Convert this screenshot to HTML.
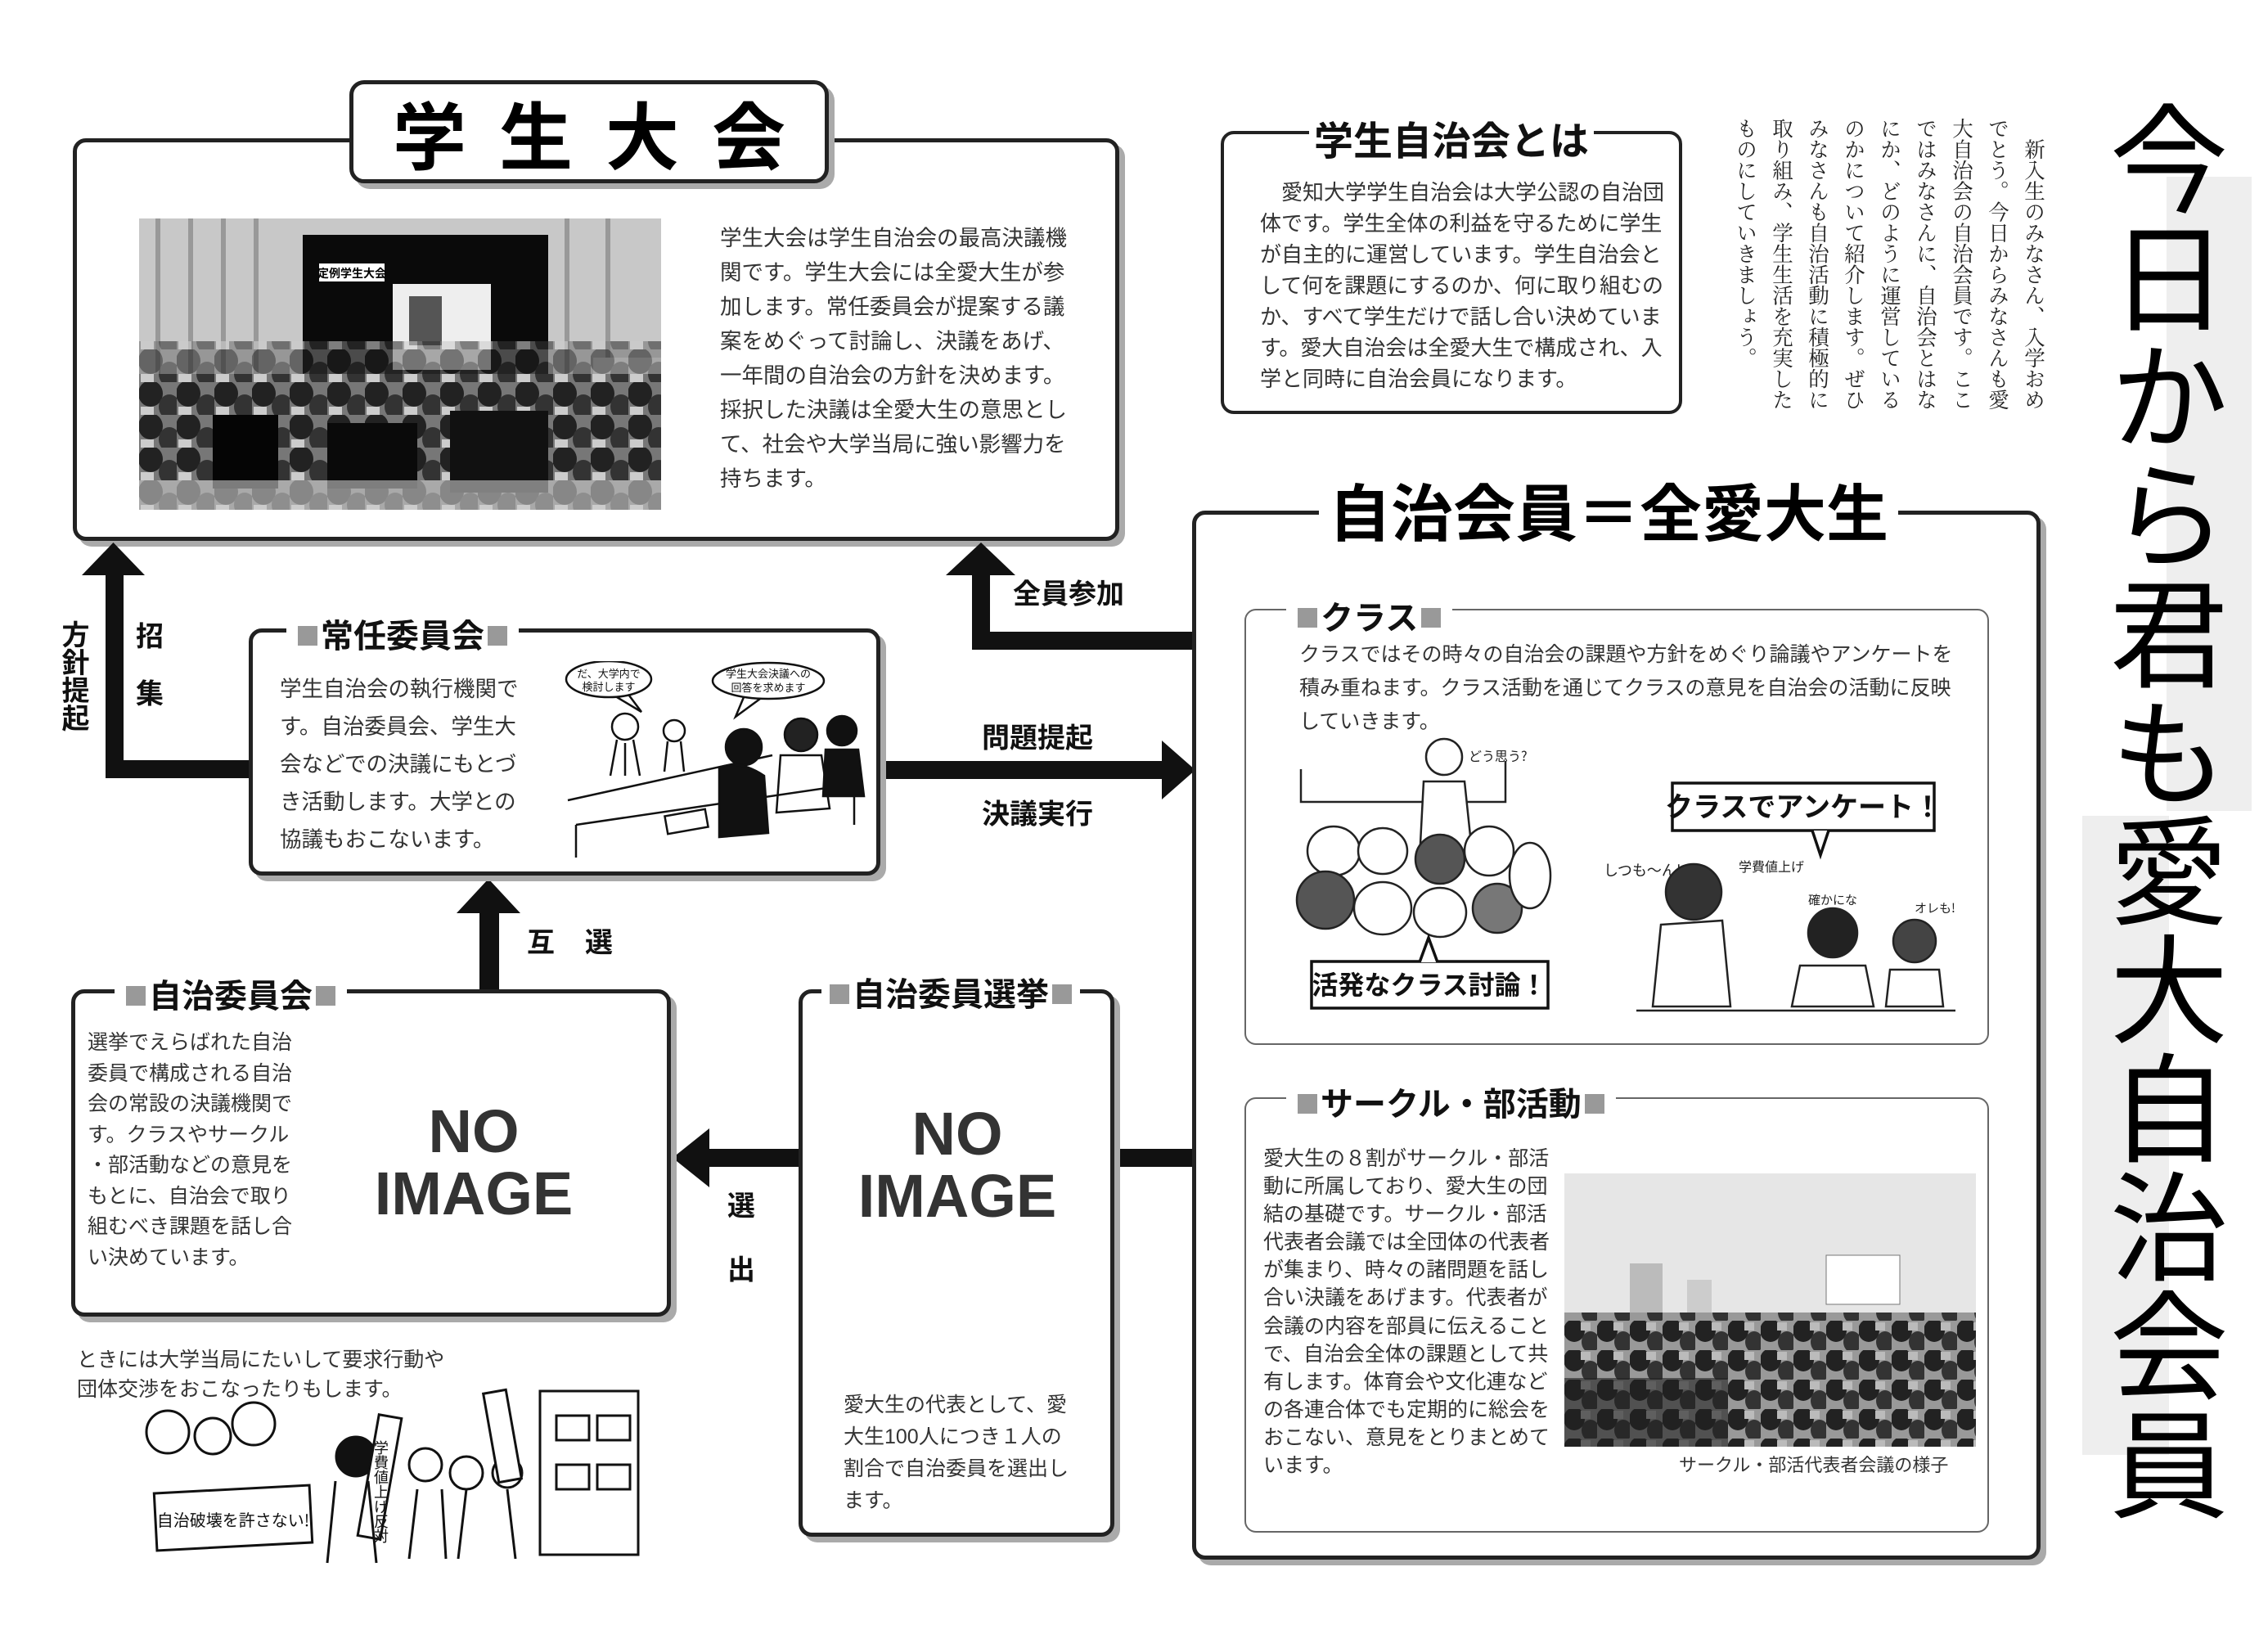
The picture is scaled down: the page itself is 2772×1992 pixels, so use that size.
<!DOCTYPE html>
<html><head><meta charset="utf-8">
<style>
*{margin:0;padding:0;box-sizing:border-box}
body{width:2772px;height:1992px;background:#fff;position:relative;overflow:hidden;font-family:"Liberation Sans","Noto Sans CJK JP",sans-serif;color:#222}
.a{position:absolute}
.box{position:absolute;border:5px solid #222;border-radius:16px;background:#fff;box-shadow:7px 7px 0 #aaa}
.sub{position:absolute;border:2px solid #666;border-radius:14px;background:#fff}
.t{position:absolute;white-space:nowrap}
.ttl{position:absolute;white-space:nowrap;font-weight:bold;background:#fff;padding:0 10px;transform:translateY(-50%);color:#111}
.sq{display:inline-block;width:0.6em;height:0.6em;background:#999;vertical-align:0.05em;margin:0 4px}
.bar{position:absolute;background:#111}
.lbl{position:absolute;font-weight:bold;font-size:34px;color:#111;transform:translate(-50%,-50%);white-space:nowrap}
.noimg{position:absolute;font-family:"Liberation Sans",sans-serif;font-weight:bold;font-size:74px;color:#333;text-align:center;line-height:76px;transform:translateX(-50%)}
</style></head><body>

<!-- gray bands -->
<div class="a" style="left:2648px;top:216px;width:104px;height:775px;background:#eee"></div>
<div class="a" style="left:2545px;top:997px;width:106px;height:781px;background:#eee"></div>

<!-- big vertical title -->
<div class="a" style="left:2578px;top:121px;width:145px;writing-mode:vertical-rl;font-size:145px;line-height:145px;font-family:'Noto Sans CJK JP',sans-serif;color:#000">今日から君も愛大自治会員</div>

<!-- vertical intro text -->
<div class="a" style="left:2111px;top:144px;width:396px;height:370px;writing-mode:vertical-rl;font-size:25.5px;line-height:44px;font-family:'Liberation Serif','Noto Serif CJK JP','Noto Serif CJK SC',serif;color:#222;white-space:nowrap">　新入生のみなさん、入学おめ<br>でとう。今日からみなさんも愛<br>大自治会の自治会員です。ここ<br>ではみなさんに、自治会とはな<br>にか、どのように運営している<br>のかについて紹介します。ぜひ<br>みなさんも自治活動に積極的に<br>取り組み、学生生活を充実した<br>ものにしていきましょう。</div>

<!-- 学生大会 -->
<div class="box" style="left:89px;top:169px;width:1279px;height:492px"></div>
<div class="box" style="left:427px;top:98px;width:586px;height:126px;border-radius:18px;display:flex;align-items:center;justify-content:center;font-weight:bold;font-size:90px;letter-spacing:40px;padding-left:40px;color:#000;white-space:nowrap">学生大会</div>
<svg class="a" style="left:170px;top:267px" width="638" height="356" viewBox="0 0 638 356">
<defs><pattern id="hd" width="46" height="40" patternUnits="userSpaceOnUse"><rect width="46" height="40" fill="#777"/><ellipse cx="14" cy="14" rx="15" ry="16" fill="#222"/><ellipse cx="37" cy="30" rx="13" ry="15" fill="#333"/><rect x="2" y="30" width="16" height="10" fill="#ccc"/></pattern></defs>
<rect width="638" height="356" fill="#c8c8c8"/>
<g fill="#999"><rect x="20" y="0" width="6" height="200"/><rect x="60" y="0" width="6" height="200"/><rect x="100" y="0" width="6" height="200"/><rect x="140" y="0" width="6" height="200"/><rect x="520" y="0" width="6" height="200"/><rect x="570" y="0" width="6" height="200"/></g>
<rect x="200" y="20" width="300" height="200" fill="#0a0a0a"/>
<rect x="310" y="80" width="120" height="105" fill="#eee"/><rect x="330" y="95" width="40" height="60" fill="#555"/>
<rect x="220" y="55" width="80" height="22" fill="#fff"/><text x="260" y="72" font-size="14" text-anchor="middle" font-weight="bold" fill="#000" font-family="Noto Sans CJK JP">定例学生大会</text>
<rect x="555" y="170" width="83" height="50" fill="#eee"/>
<rect x="0" y="190" width="638" height="166" fill="url(#hd)"/>
<rect x="0" y="150" width="638" height="45" fill="url(#hd)" opacity="0.6"/>
<rect x="90" y="240" width="80" height="90" fill="#050505"/><rect x="230" y="250" width="110" height="80" fill="#0a0a0a"/><rect x="380" y="235" width="120" height="100" fill="#111"/>
<rect x="0" y="320" width="638" height="36" fill="#ccc" opacity="0.6"/>
</svg>
<div class="t" style="left:880px;top:270px;font-size:26.5px;line-height:42px;color:#333">学生大会は学生自治会の最高決議機<br>関です。学生大会には全愛大生が参<br>加します。常任委員会が提案する議<br>案をめぐって討論し、決議をあげ、<br>一年間の自治会の方針を決めます。<br>採択した決議は全愛大生の意思とし<br>て、社会や大学当局に強い影響力を<br>持ちます。</div>

<!-- 学生自治会とは -->
<div class="box" style="left:1492px;top:160px;width:564px;height:346px;border-width:4px;box-shadow:none"></div>
<div class="ttl" style="left:1600px;top:168px;font-size:48px;padding:0 6px">学生自治会とは</div>
<div class="t" style="left:1540px;top:216px;font-size:26px;line-height:38px;color:#333">　愛知大学学生自治会は大学公認の自治団<br>体です。学生全体の利益を守るために学生<br>が自主的に運営しています。学生自治会と<br>して何を課題にするのか、何に取り組むの<br>か、すべて学生だけで話し合い決めていま<br>す。愛大自治会は全愛大生で構成され、入<br>学と同時に自治会員になります。</div>

<!-- arrows -->
<div class="bar" style="left:129px;top:700px;width:22px;height:251px"></div>
<div class="bar" style="left:129px;top:929px;width:176px;height:22px"></div>
<svg class="a" style="left:0;top:0" width="2772" height="1992">
<polygon points="100,703 177,703 138.5,663" fill="#111"/>
<polygon points="1156,703 1241,703 1199,663" fill="#111"/>
<polygon points="1420,905 1420,977 1461,941" fill="#111"/>
<polygon points="558,1116 636,1116 597,1074" fill="#111"/>
<polygon points="867,1379 867,1451 822,1415" fill="#111"/>
</svg>
<div class="bar" style="left:1188px;top:700px;width:22px;height:93px"></div>
<div class="bar" style="left:1188px;top:772px;width:280px;height:22px"></div>
<div class="bar" style="left:1076px;top:930px;width:346px;height:22px"></div>
<div class="bar" style="left:586px;top:1114px;width:24px;height:96px"></div>
<div class="bar" style="left:865px;top:1404px;width:112px;height:22px"></div>
<div class="bar" style="left:1362px;top:1404px;width:97px;height:22px"></div>

<div class="a" style="left:72px;top:758px;writing-mode:vertical-rl;font-size:34px;font-weight:bold;line-height:34px;color:#111">方針提起</div>
<div class="lbl" style="left:183px;top:775px">招</div>
<div class="lbl" style="left:183px;top:845px">集</div>
<div class="lbl" style="left:1306px;top:723px">全員参加</div>
<div class="lbl" style="left:1268px;top:899px">問題提起</div>
<div class="lbl" style="left:1268px;top:992px">決議実行</div>
<div class="lbl" style="left:661px;top:1149px">互</div>
<div class="lbl" style="left:732px;top:1149px">選</div>
<div class="lbl" style="left:906px;top:1471px">選</div>
<div class="lbl" style="left:906px;top:1549px">出</div>

<!-- 常任委員会 -->
<div class="box" style="left:304px;top:768px;width:772px;height:302px"></div>
<div class="ttl" style="left:350px;top:774px;font-size:40px"><span class="sq"></span>常任委員会<span class="sq"></span></div>
<div class="t" style="left:342px;top:819px;font-size:26.5px;line-height:46px;color:#333">学生自治会の執行機関で<br>す。自治委員会、学生大<br>会などでの決議にもとづ<br>き活動します。大学との<br>協議もおこないます。</div>
<svg class="a" style="left:684px;top:808px" width="382" height="240" viewBox="0 0 382 240" fill="none" stroke="#111" stroke-width="2.5">
<ellipse cx="60" cy="22" rx="52" ry="22" fill="#fff"/><path d="M85 42 L100 62 L70 44"/>
<text x="60" y="20" font-size="13" fill="#111" stroke="none" text-anchor="middle" font-family="Noto Sans CJK JP">だ、大学内で</text><text x="60" y="36" font-size="13" fill="#111" stroke="none" text-anchor="middle" font-family="Noto Sans CJK JP">検討します</text>
<ellipse cx="255" cy="24" rx="68" ry="22" fill="#fff"/><path d="M225 44 L215 68 L245 46"/>
<text x="255" y="20" font-size="13" fill="#111" stroke="none" text-anchor="middle" font-family="Noto Sans CJK JP">学生大会決議への</text><text x="255" y="37" font-size="13" fill="#111" stroke="none" text-anchor="middle" font-family="Noto Sans CJK JP">回答を求めます</text>
<circle cx="80" cy="80" r="16"/><path d="M70 96 L62 140 M90 96 L98 140 M80 100 L80 140" />
<circle cx="140" cy="85" r="13"/><path d="M132 98 L128 135 M148 98 L152 135"/>
<path d="M10 170 L260 115 M20 200 L360 150 M20 200 L20 240 M360 150 L360 200"/>
<circle cx="225" cy="105" r="22" fill="#111"/><path d="M195 130 Q220 120 250 140 L255 210 L195 215 Z" fill="#111"/>
<circle cx="295" cy="90" r="20" fill="#222"/><path d="M270 115 L320 115 L330 180 L265 185 Z"/>
<circle cx="345" cy="85" r="18" fill="#111"/><path d="M325 108 L365 108 L372 165 L322 165 Z" fill="#111"/>
<rect x="130" y="185" width="50" height="22" transform="rotate(-10 155 196)"/>
</svg>

<!-- 自治委員会 -->
<div class="box" style="left:87px;top:1209px;width:733px;height:400px"></div>
<div class="ttl" style="left:140px;top:1214px;font-size:40px"><span class="sq"></span>自治委員会<span class="sq"></span></div>
<div class="t" style="left:107px;top:1256px;font-size:25px;line-height:37.5px;color:#333">選挙でえらばれた自治<br>委員で構成される自治<br>会の常設の決議機関で<br>す。クラスやサークル<br>・部活動などの意見を<br>もとに、自治会で取り<br>組むべき課題を話し合<br>い決めています。</div>
<div class="noimg" style="left:579px;top:1345px">NO<br>IMAGE</div>

<!-- 自治委員選挙 -->
<div class="box" style="left:976px;top:1209px;width:386px;height:669px"></div>
<div class="ttl" style="left:1004px;top:1212px;font-size:40px;padding:0 6px"><span class="sq"></span>自治委員選挙<span class="sq"></span></div>
<div class="noimg" style="left:1170px;top:1348px">NO<br>IMAGE</div>
<div class="t" style="left:1031px;top:1698px;font-size:25px;line-height:39px;color:#333">愛大生の代表として、愛<br>大生100人につき１人の<br>割合で自治委員を選出し<br>ます。</div>

<!-- bottom left caption & cartoon -->
<div class="t" style="left:94px;top:1644px;font-size:25px;line-height:36px;color:#333">ときには大学当局にたいして要求行動や<br>団体交渉をおこなったりもします。</div>
<svg class="a" style="left:150px;top:1690px" width="680" height="240" viewBox="0 0 680 240" fill="none" stroke="#111" stroke-width="3">
<rect x="510" y="10" width="120" height="200" fill="#fff"/><rect x="530" y="40" width="40" height="30"/><rect x="580" y="40" width="40" height="30"/><rect x="530" y="100" width="40" height="30"/><rect x="580" y="100" width="40" height="30"/>
<circle cx="55" cy="60" r="26"/><circle cx="110" cy="65" r="22"/><circle cx="160" cy="50" r="26"/>
<circle cx="285" cy="90" r="24" fill="#111"/><circle cx="420" cy="110" r="20"/><circle cx="470" cy="110" r="18"/><circle cx="370" cy="100" r="20"/>
<rect x="40" y="130" width="190" height="70" fill="#fff" transform="rotate(-3 135 165)"/>
<text x="135" y="175" font-size="20" fill="#111" stroke="none" text-anchor="middle" font-family="Noto Sans CJK JP">自治破壊を許さない!</text>
<rect x="300" y="40" width="28" height="150" fill="#fff" transform="rotate(10 314 115)"/>
<text x="316" y="70" font-size="18" fill="#111" stroke="none" font-family="Noto Sans CJK JP" writing-mode="tb">学費値上げ反対</text>
<rect x="450" y="10" width="28" height="110" fill="#fff" transform="rotate(-10 464 65)"/>
<path d="M260 120 L250 220 M300 120 L310 220 M360 130 L350 215 M390 130 L395 215 M420 130 L410 215 M470 130 L480 215"/>
</svg>

<!-- 自治会員=全愛大生 -->
<div class="box" style="left:1457px;top:624px;width:1037px;height:1282px"></div>
<div class="ttl" style="left:1612px;top:622px;font-size:76px;padding:0 12px;color:#000">自治会員＝全愛大生</div>

<!-- クラス -->
<div class="sub" style="left:1521px;top:744px;width:910px;height:533px"></div>
<div class="ttl" style="left:1572px;top:752px;font-size:40px"><span class="sq"></span>クラス<span class="sq"></span></div>
<div class="t" style="left:1588px;top:780px;font-size:25px;line-height:41px;color:#333">クラスではその時々の自治会の課題や方針をめぐり論議やアンケートを<br>積み重ねます。クラス活動を通じてクラスの意見を自治会の活動に反映<br>していきます。</div>
<svg class="a" style="left:1560px;top:900px" width="860" height="360" viewBox="0 0 860 360" fill="none" stroke="#222" stroke-width="2.5">
<path d="M30 40 L30 80 L280 80 L280 30"/>
<circle cx="205" cy="25" r="22" fill="#fff"/><path d="M180 55 L230 55 L240 150 L175 150 Z" fill="#fff"/>
<text x="235" y="30" font-size="16" fill="#222" stroke="none" font-family="Noto Sans CJK JP">どう思う?</text>
<g fill="#fff"><ellipse cx="70" cy="140" rx="32" ry="30"/><ellipse cx="130" cy="140" rx="30" ry="28"/><ellipse cx="200" cy="150" rx="30" ry="30" fill="#555"/><ellipse cx="260" cy="140" rx="30" ry="30"/><ellipse cx="60" cy="200" rx="35" ry="35" fill="#555"/><ellipse cx="130" cy="210" rx="35" ry="32"/><ellipse cx="200" cy="215" rx="32" ry="30"/><ellipse cx="270" cy="210" rx="30" ry="30" fill="#777"/><ellipse cx="310" cy="170" rx="25" ry="40"/></g>
<text x="400" y="170" font-size="18" fill="#222" stroke="none" font-family="Noto Sans CJK JP">しつも〜ん!</text>
<rect x="484" y="57" width="320" height="58" fill="#fff" stroke="#111" stroke-width="3.5"/>
<path d="M655 115 L665 145 L675 115" fill="#fff" stroke="#111" stroke-width="3.5"/>
<text x="644" y="98" font-size="34" font-weight="bold" fill="#111" stroke="none" text-anchor="middle" font-family="Noto Sans CJK JP">クラスでアンケート！</text>
<rect x="43" y="275" width="289" height="57" fill="#fff" stroke="#111" stroke-width="3.5"/>
<path d="M175 276 L186 246 L197 276" fill="#fff" stroke="#111" stroke-width="3.5"/>
<text x="187" y="315" font-size="32" font-weight="bold" fill="#111" stroke="none" text-anchor="middle" font-family="Noto Sans CJK JP">活発なクラス討論！</text>
<circle cx="510" cy="190" r="34" fill="#333"/><path d="M470 230 L545 225 L555 330 L460 330 Z" fill="#fff"/>
<circle cx="680" cy="240" r="30" fill="#222"/><path d="M640 280 L720 280 L730 330 L630 330 Z"/>
<circle cx="780" cy="250" r="26" fill="#444"/><path d="M750 285 L810 285 L815 330 L745 330 Z"/>
<path d="M440 335 L830 335"/>
<text x="565" y="165" font-size="16" fill="#222" stroke="none" font-family="Noto Sans CJK JP">学費値上げ</text>
<text x="650" y="205" font-size="15" fill="#222" stroke="none" font-family="Noto Sans CJK JP">確かにな</text>
<text x="780" y="215" font-size="15" fill="#222" stroke="none" font-family="Noto Sans CJK JP">オレも!</text>
</svg>

<!-- サークル・部活動 -->
<div class="sub" style="left:1521px;top:1341px;width:910px;height:532px"></div>
<div class="ttl" style="left:1572px;top:1346px;font-size:40px"><span class="sq"></span>サークル・部活動<span class="sq"></span></div>
<div class="t" style="left:1544px;top:1399px;font-size:25px;line-height:34.1px;color:#333">愛大生の８割がサークル・部活<br>動に所属しており、愛大生の団<br>結の基礎です。サークル・部活<br>代表者会議では全団体の代表者<br>が集まり、時々の諸問題を話し<br>合い決議をあげます。代表者が<br>会議の内容を部員に伝えること<br>で、自治会全体の課題として共<br>有します。体育会や文化連など<br>の各連合体でも定期的に総会を<br>おこない、意見をとりまとめて<br>います。</div>
<svg class="a" style="left:1912px;top:1434px" width="503" height="334" viewBox="0 0 503 334">
<defs><pattern id="hd2" width="40" height="36" patternUnits="userSpaceOnUse"><rect width="40" height="36" fill="#999"/><ellipse cx="12" cy="12" rx="13" ry="14" fill="#222"/><ellipse cx="32" cy="26" rx="11" ry="13" fill="#333"/><rect x="20" y="2" width="12" height="10" fill="#bbb"/></pattern></defs>
<rect width="503" height="334" fill="#e6e6e6"/>
<rect x="80" y="110" width="40" height="80" fill="#bbb"/><rect x="150" y="130" width="30" height="60" fill="#ccc"/>
<rect x="320" y="100" width="90" height="60" fill="#fff" stroke="#777"/>
<rect x="0" y="170" width="503" height="164" fill="url(#hd2)"/>
<rect x="0" y="250" width="200" height="84" fill="#222" opacity="0.6"/>
</svg>
<div class="t" style="left:2052px;top:1773px;font-size:22px;color:#333">サークル・部活代表者会議の様子</div>

</body></html>
